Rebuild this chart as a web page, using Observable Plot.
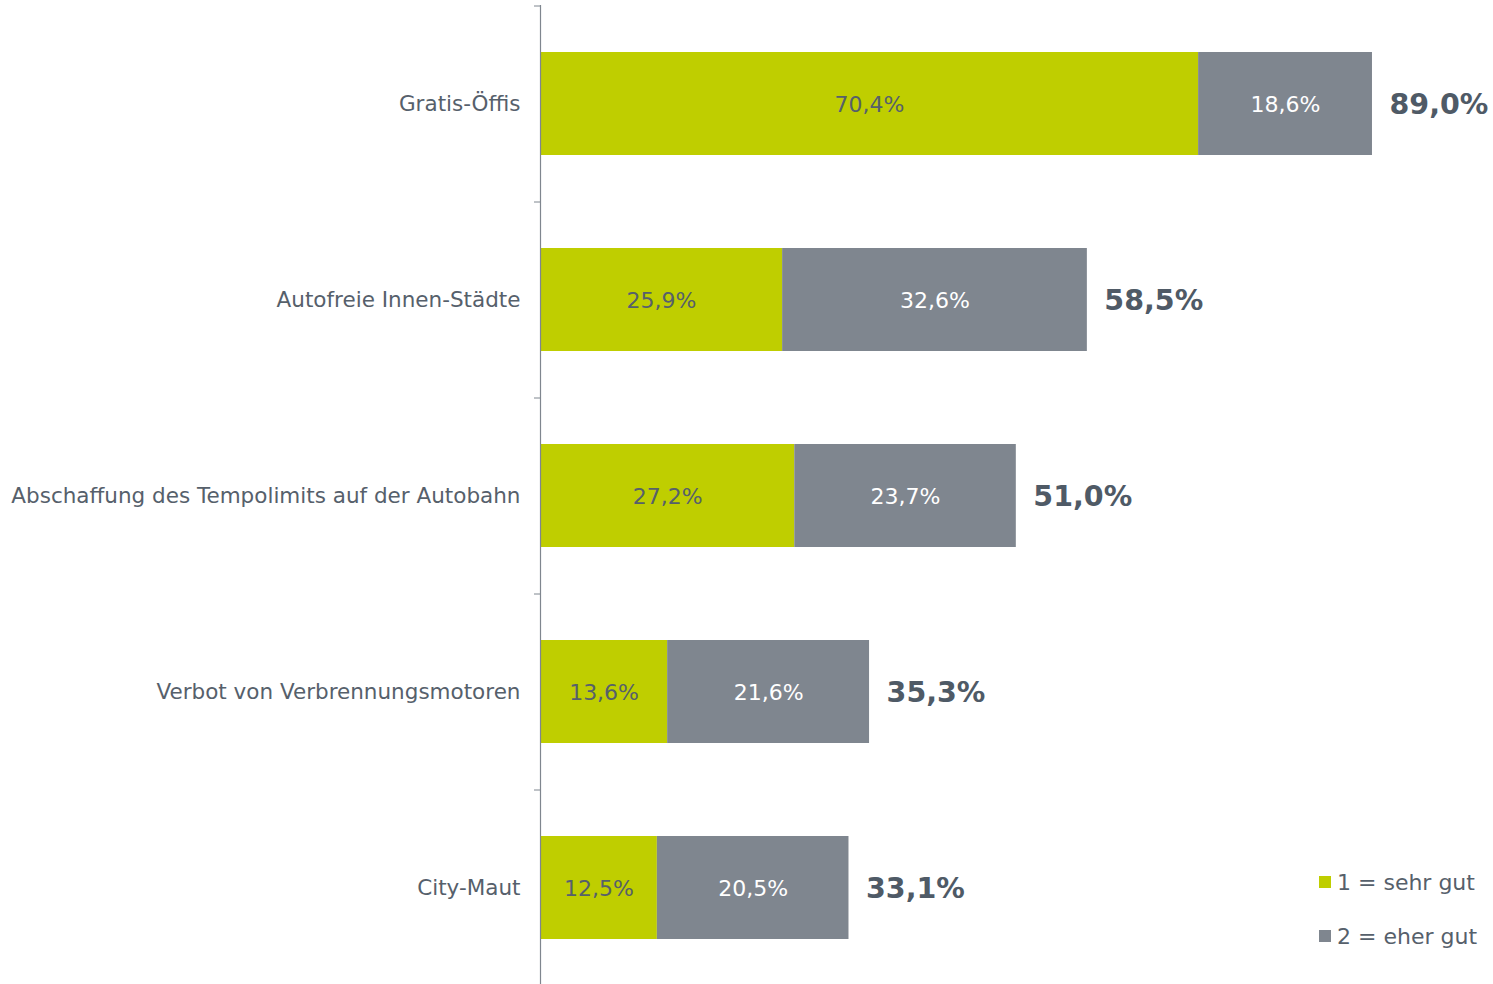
<!DOCTYPE html>
<html>
<head>
<meta charset="utf-8">
<script src="https://cdn.jsdelivr.net/npm/d3@7"></script>
<script src="https://cdn.jsdelivr.net/npm/@observablehq/plot@0.6"></script>
<style>
  html, body { margin: 0; padding: 0; background: #fff; overflow: hidden; }
  #wrap { position: relative; width: 1493px; height: 984px; font-family: "DejaVu Sans", Verdana, sans-serif; }
  #legend { position: absolute; left: 1319px; top: 867px; color: #56606b; font-size: 22px; }
  #legend div { display: flex; align-items: center; height: 30px; margin-bottom: 24px; white-space: nowrap; }
  #legend span.sw { display: inline-block; width: 12px; height: 12px; margin-right: 6px; }
</style>
</head>
<body>
<div id="wrap"><div id="chart"></div><div id="legend"></div></div>
<script>
const categories = ["Gratis-Öffis", "Autofreie Innen-Städte", "Abschaffung des Tempolimits auf der Autobahn", "Verbot von Verbrennungsmotoren", "City-Maut"];
const seriesNames = ["1 = sehr gut", "2 = eher gut"];
const sehrGut = [70.4, 25.9, 27.2, 13.6, 12.5];
const eherGut = [18.6, 32.6, 23.7, 21.6, 20.5];
const totals = [89.0, 58.5, 51.0, 35.3, 33.1];
const colors = ["#bfce00", "#7f868f"];

const fmt = v => v.toFixed(1).replace(".", ",") + "%";

const data = [];
categories.forEach((c, i) => {
  data.push({cat: c, series: seriesNames[0], value: sehrGut[i]});
  data.push({cat: c, series: seriesNames[1], value: eherGut[i]});
});
const totalData = categories.map((c, i) => ({cat: c, total: totals[i], end: sehrGut[i] + eherGut[i]}));

const chart = Plot.plot({
  width: 1493,
  height: 985,
  marginLeft: 540,
  marginRight: 18.2,
  marginTop: 5,
  marginBottom: 0,
  style: {fontFamily: "DejaVu Sans, Verdana, sans-serif", fontSize: "21.5px", color: "#56606b", background: "white"},
  x: {domain: [0, 100], axis: null},
  y: {domain: categories, paddingInner: 0.475, paddingOuter: 0.2375, label: null},
  color: {domain: seriesNames, range: colors},
  marks: [
    Plot.barX(data, Plot.stackX({x: "value", y: "cat", fill: "series", z: "series", order: seriesNames})),
    Plot.text(data, Plot.stackX({x: "value", y: "cat", z: "series", order: seriesNames, text: d => d.series === seriesNames[0] ? fmt(d.value) : "", fill: "#56606b", fontSize: 22, dy: 1})),
    Plot.text(data, Plot.stackX({x: "value", y: "cat", z: "series", order: seriesNames, text: d => d.series === seriesNames[1] ? fmt(d.value) : "", fill: "white", fontSize: 22, dy: 1})),
    Plot.text(totalData, {x: "end", y: "cat", text: d => fmt(d.total), textAnchor: "start", dx: 17, dy: 1, fontSize: 28.5, fontWeight: "bold", fill: "#4f5a66"}),
    Plot.axisY({tickSize: 0, tickPadding: 20, fontSize: 21.5, fill: "#56606b", label: null}),
    Plot.axisY({tickSize: 6, text: null, dy: -98, stroke: "#7f868f", label: null}),
    Plot.ruleX([0], {stroke: "#7f868f", strokeWidth: 1.2})
  ]
});
document.getElementById("chart").appendChild(chart);

const legend = document.getElementById("legend");
seriesNames.forEach((s, i) => {
  const row = document.createElement("div");
  const sw = document.createElement("span");
  sw.className = "sw";
  sw.style.background = colors[i];
  row.appendChild(sw);
  row.appendChild(document.createTextNode(s));
  legend.appendChild(row);
});
</script>
</body>
</html>
